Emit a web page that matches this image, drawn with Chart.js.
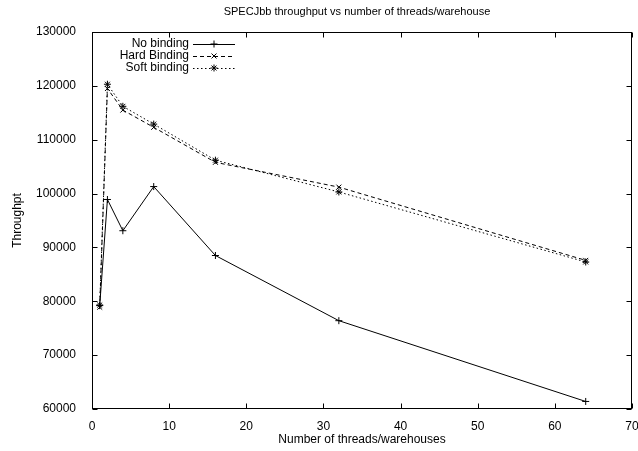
<!DOCTYPE html>
<html><head><meta charset="utf-8">
<script src="https://cdn.jsdelivr.net/npm/chart.js@4/dist/chart.umd.min.js"></script>
<style>html,body{margin:0;padding:0;background:#fff}#wrap{width:638px;height:451px}</style>
</head><body><div id="wrap"><canvas id="c" width="638" height="451"></canvas></div>
<script>
const threads = [1, 2, 4, 8, 16, 32, 64];
const noBinding = [79200, 98900, 93100, 101300, 88500, 76400, 61400];
const hardBinding = [78900, 119500, 115500, 112300, 105800, 101200, 87600];
const softBinding = [79300, 120300, 116200, 112900, 106200, 100300, 87300];
const xTicks = [0, 10, 20, 30, 40, 50, 60, 70];
const yTicks = [60000, 70000, 80000, 90000, 100000, 110000, 120000, 130000];
const seriesNames = ['No binding', 'Hard Binding', 'Soft binding'];
const chartTitle = 'SPECJbb throughput vs number of threads/warehouse';
const xTitle = 'Number of threads/warehouses';
const yTitle = 'Throughpt';

const FONT = '"Liberation Sans", Arial, Helvetica, sans-serif';
const toPts = arr => threads.map((t, i) => ({ x: t, y: arr[i] }));
const styles = [
  { dash: [], point: 'cross' },
  { dash: [4, 3], point: 'crossRot' },
  { dash: [1.5, 2.5], point: 'star' }
];
const allSeries = [noBinding, hardBinding, softBinding];

const datasets = allSeries.map((arr, i) => ({
  label: seriesNames[i],
  data: toPts(arr),
  borderColor: '#000',
  backgroundColor: '#000',
  borderWidth: 1,
  borderDash: styles[i].dash,
  pointStyle: styles[i].point,
  pointRadius: 3.5,
  pointBorderWidth: 1,
  pointBorderColor: '#000',
  tension: 0,
  fill: false
}));

const framePlugin = {
  id: 'frame',
  afterDraw(chart) {
    const ctx = chart.ctx;
    const a = chart.chartArea;
    const xs = chart.scales.x, ys = chart.scales.y;
    ctx.save();
    ctx.strokeStyle = '#000';
    ctx.lineWidth = 1;
    ctx.setLineDash([]);
    const L = Math.round(a.left) + 0.5, R = Math.round(a.right) - 0.5;
    const T = Math.round(a.top) + 0.5, B = Math.round(a.bottom) - 0.5;
    ctx.strokeRect(L, T, R - L, B - T);
    const tl = 5;
    ctx.beginPath();
    xTicks.forEach(v => {
      const px = Math.round(xs.getPixelForValue(v)) + 0.5;
      ctx.moveTo(px, B); ctx.lineTo(px, B - tl);
      ctx.moveTo(px, T); ctx.lineTo(px, T + tl);
    });
    yTicks.forEach(v => {
      const py = Math.round(ys.getPixelForValue(v)) + 0.5;
      ctx.moveTo(L, py); ctx.lineTo(L + tl, py);
      ctx.moveTo(R, py); ctx.lineTo(R - tl, py);
    });
    ctx.stroke();

    ctx.fillStyle = '#000';
    ctx.textAlign = 'center';
    ctx.textBaseline = 'middle';
    const cx = (a.left + a.right) / 2;
    ctx.font = '11px ' + FONT;
    ctx.fillText(chartTitle, 357, 12);
    ctx.font = '12px ' + FONT;
    ctx.fillText(xTitle, cx, 440);
    ctx.save();
    ctx.translate(18, (a.top + a.bottom) / 2);
    ctx.rotate(-Math.PI / 2);
    ctx.fillText(yTitle, 0, 0);
    ctx.restore();

    // legend
    const textRight = 189, lx0 = 193, lx1 = 235, rowY0 = 44, rowH = 12;
    chart.data.datasets.forEach((ds, i) => {
      const y = rowY0 + i * rowH;
      ctx.textAlign = 'right';
      ctx.fillText(ds.label, textRight, y);
      ctx.setLineDash(ds.borderDash);
      ctx.beginPath();
      ctx.moveTo(lx0, Math.round(y) + 0.5);
      ctx.lineTo(lx1, Math.round(y) + 0.5);
      ctx.stroke();
      ctx.setLineDash([]);
      Chart.helpers.drawPoint(ctx, { pointStyle: ds.pointStyle, radius: 3.5, borderWidth: 1, rotation: 0 }, (lx0 + lx1) / 2, y);
    });
    ctx.restore();
  }
};

new Chart(document.getElementById('c'), {
  type: 'line',
  data: { datasets },
  options: {
    responsive: false,
    devicePixelRatio: 1,
    animation: false,
    layout: { padding: { top: 32, right: 6, left: 0, bottom: 0 } },
    plugins: { legend: { display: false }, title: { display: false }, tooltip: { enabled: false } },
    scales: {
      x: {
        type: 'linear', min: 0, max: 70,
        afterBuildTicks: s => { s.ticks = xTicks.map(v => ({ value: v })); },
        afterFit: s => { s.height = 42; s.paddingRight = 0; s.paddingLeft = 0; },
        grid: { display: false },
        border: { display: false },
        ticks: { color: '#000', font: { size: 12, family: FONT }, padding: 2, maxRotation: 0 }
      },
      y: {
        type: 'linear', min: 60000, max: 130000,
        afterBuildTicks: s => { s.ticks = yTicks.map(v => ({ value: v })); },
        afterFit: s => { s.width = 92; s.paddingTop = 0; s.paddingBottom = 0; },
        grid: { display: false },
        border: { display: false },
        ticks: { color: '#000', font: { size: 12, family: FONT }, padding: 8, callback: v => String(v) }
      }
    }
  },
  plugins: [framePlugin]
});
</script></body></html>
